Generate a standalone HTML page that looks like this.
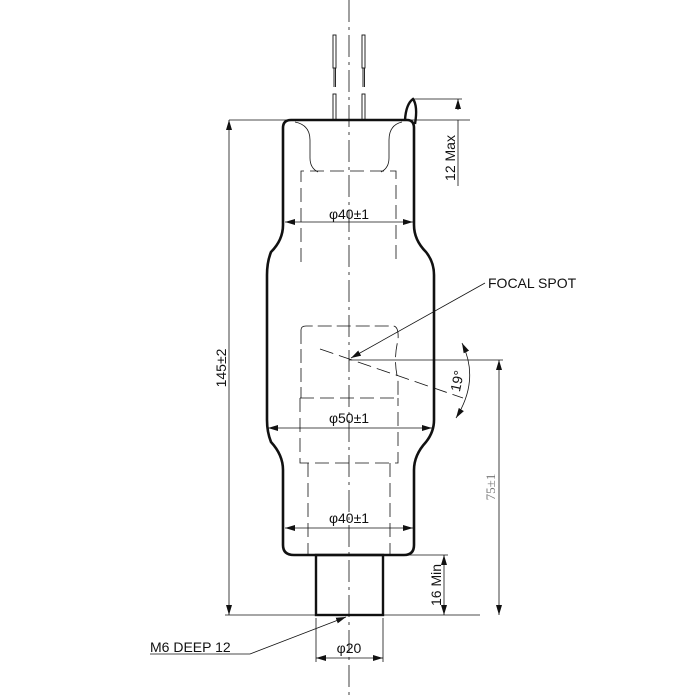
<!DOCTYPE html>
<html><head><style>body{margin:0;background:#fff}svg{display:block}text{font-family:"Liberation Sans",sans-serif;fill:#111}</style></head>
<body>
<svg width="700" height="700" viewBox="0 0 700 700" xmlns="http://www.w3.org/2000/svg">
<defs>
<marker id="a" markerWidth="10" markerHeight="6" refX="10" refY="3" orient="auto" markerUnits="userSpaceOnUse"><path d="M0,0 L10,3 L0,6z" fill="#111"/></marker>
<marker id="b" markerWidth="10" markerHeight="6" refX="0" refY="3" orient="auto" markerUnits="userSpaceOnUse"><path d="M10,0 L0,3 L10,6z" fill="#111"/></marker>
</defs>
<g stroke="#111" fill="none">
<line x1="349" y1="0" x2="349" y2="695" stroke-width="0.8" stroke-dasharray="22,5,3,5"/>
<g stroke-width="0.9">
<rect x="333" y="35" width="3" height="33"/><rect x="362" y="35" width="3" height="33"/>
<line x1="334" y1="68" x2="334" y2="87"/><line x1="335.5" y1="68" x2="335.5" y2="87"/>
<line x1="363" y1="68" x2="363" y2="87"/><line x1="364.5" y1="68" x2="364.5" y2="87"/>
<rect x="333" y="94" width="3" height="26"/><rect x="362" y="94" width="3" height="26"/>
</g>
<path d="M291,120 L407,120 Q414,120 414,128 L414,225 Q414,240 426,252 Q434,262 434,275 L434,420 Q434,432 426,442 Q414,455 414,470 L414,545 Q414,555 404,555 L294,555 Q283,555 283,545 L283,470 Q283,455 271,442 Q267,432 267,420 L267,275 Q267,262 271,252 Q283,240 283,225 L283,128 Q283,120 291,120 Z" stroke-width="2.6"/>
<path d="M405,120 Q406,104 413,99 Q418,106 415,124" stroke-width="2.4"/>
<rect x="316" y="555" width="67" height="60" stroke-width="2.4"/>
<g stroke-width="0.8">
<line x1="229" y1="120" x2="470" y2="120"/>
<line x1="414" y1="99" x2="462" y2="99"/>
<line x1="225" y1="615" x2="480" y2="615"/>
<line x1="383" y1="555" x2="448" y2="555"/>
<line x1="349" y1="360" x2="503" y2="360"/>
<line x1="229" y1="120" x2="229" y2="615" marker-start="url(#b)" marker-end="url(#a)"/>
<line x1="458" y1="99" x2="458" y2="110" marker-start="url(#b)"/>
<line x1="458" y1="120" x2="458" y2="186"/>
<line x1="444" y1="555" x2="444" y2="615" marker-start="url(#b)" marker-end="url(#a)"/>
<line x1="499" y1="360" x2="499" y2="615" marker-start="url(#b)" marker-end="url(#a)"/>
<line x1="285" y1="222" x2="413" y2="222" marker-start="url(#b)" marker-end="url(#a)"/>
<line x1="268" y1="428" x2="432" y2="428" marker-start="url(#b)" marker-end="url(#a)"/>
<line x1="285" y1="528" x2="413" y2="528" marker-start="url(#b)" marker-end="url(#a)"/>
<line x1="316" y1="618" x2="316" y2="662"/><line x1="383" y1="618" x2="383" y2="662"/>
<line x1="316" y1="658" x2="383" y2="658" marker-start="url(#b)" marker-end="url(#a)"/>
<line x1="485" y1="283" x2="351" y2="358" marker-end="url(#a)"/>
<path d="M150,654 L250,654 L346,617" marker-end="url(#a)"/>
<path d="M462,343 Q480,380 456,418" marker-start="url(#b)" marker-end="url(#a)"/>
<path d="M295,122 Q310,125 310,140 L310,158 Q310,168 318,172"/>
<path d="M402,122 Q389,125 389,140 L389,158 Q389,168 381,172"/>
<path d="M301,330 Q301,326 306,326 L393,326 Q399,326 398,340 Q393,360 398,380 L398,398" stroke-dasharray="14,5"/>
<line x1="301" y1="330" x2="301" y2="398" stroke-dasharray="14,5"/>
</g>
<g stroke-width="0.8" stroke-dasharray="14,6">
<path d="M301,262 L301,171 L396,171 L396,262"/>
<line x1="300" y1="398" x2="398" y2="398"/>
<path d="M300,398 L300,463 L398,463 L398,398"/>
<line x1="308" y1="463" x2="308" y2="555"/><line x1="390" y1="463" x2="390" y2="555"/>
<line x1="320" y1="349" x2="463" y2="398"/>
</g>
</g>
<text x="349" y="219" font-size="14" text-anchor="middle">φ40±1</text>
<text x="349" y="423" font-size="14" text-anchor="middle">φ50±1</text>
<text x="349" y="523" font-size="14" text-anchor="middle">φ40±1</text>
<text x="349" y="653" font-size="14" text-anchor="middle">φ20</text>
<text x="488" y="288" font-size="14">FOCAL SPOT</text>
<text x="150" y="652" font-size="14">M6 DEEP 12</text>
<text transform="translate(226,368) rotate(-90)" font-size="14" text-anchor="middle">145±2</text>
<text transform="translate(455,158) rotate(-90)" font-size="14" text-anchor="middle">12 Max</text>
<text transform="translate(441,585) rotate(-90)" font-size="14" text-anchor="middle">16 Min</text>
<text transform="translate(495,487) rotate(-90)" font-size="13" text-anchor="middle" style="fill:#777;font-family:'Liberation Serif',serif">75±1</text>
<text transform="translate(462,382) rotate(-78)" font-size="14" text-anchor="middle">19°</text>
</svg>
</body></html>
